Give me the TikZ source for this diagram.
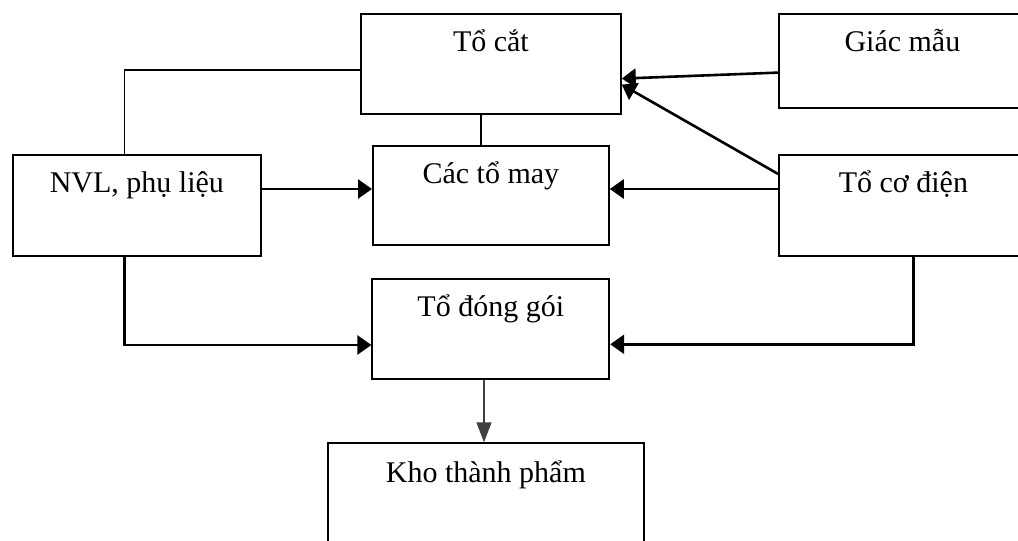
\documentclass[tikz,border=0pt]{standalone}
\usepackage{fontspec}
\setmainfont{Liberation Serif}
\usetikzlibrary{arrows.meta}
\begin{document}
\begin{tikzpicture}[x=1pt,y=-1pt,
  box/.style={draw, line width=1.8pt, anchor=north west, inner sep=0pt},
  lbl/.style={anchor=base, inner sep=0pt, font=\fontsize{30}{36}\selectfont},
  plain/.style={line width=1.6pt},
  arr/.style={line width=2.6pt, -{Triangle[length=14pt,width=19pt]}},
  thinarr/.style={line width=1.4pt, draw=black!75, -{Triangle[length=20pt,width=15pt]}}]
\useasboundingbox (0,0) rectangle (1018,541);
\fill[white] (0,0) rectangle (1018,541);
% boxes
\node[box, minimum width=260pt, minimum height=100pt] (cat) at (360,12.7) {};
\node[box, minimum width=247pt, minimum height=94pt] (giac) at (778,12.7) {};
\node[box, minimum width=248pt, minimum height=101pt] (nvl) at (12,154) {};
\node[box, minimum width=236pt, minimum height=99pt] (may) at (372,145) {};
\node[box, minimum width=249pt, minimum height=101pt] (coh) at (778,154) {};
\node[box, minimum width=237pt, minimum height=100pt] (dong) at (371.4,278) {};
\node[box, minimum width=316pt, minimum height=110pt] (kho) at (327,442.3) {};
% labels
\node[lbl] (catT) at ([yshift=-38.5pt]cat.north) {Tổ cắt};
\node[lbl] (giacT) at ([yshift=-38.5pt]giac.north) {Giác mẫu};
\node[lbl] (nvlT) at ([yshift=-38.5pt]nvl.north) {NVL, phụ liệu};
\node[lbl] (mayT) at ([yshift=-38.5pt]may.north) {Các tổ may};
\node[lbl] (cohT) at ([yshift=-38.5pt]coh.north) {Tổ cơ điện};
\node[lbl] (dongT) at ([yshift=-38.5pt]dong.north) {Tổ đóng gói};
\node[lbl] (khoT) at ([yshift=-40pt]kho.north) {Kho thành phẩm};
% helper coordinates
\coordinate (c1) at (124.6,70);
\coordinate (c2) at (481,0);
\coordinate (c3) at (0,189);
\coordinate (c4) at (124.6,345);
\coordinate (c5) at (913.6,344.3);
\coordinate (c6) at (484,0);
% connectors
\draw[plain] (cat.west |- c1) -- (c1) -- (c1 |- nvl.north);
\draw[plain] (c2 |- cat.south) -- (c2 |- may.north);
\draw[arr] (nvl.east |- c3) -- (may.west |- c3);
\draw[arr] (coh.west |- c3) -- (may.east |- c3);
\draw[arr] ([yshift=-12pt]giac.west) -- ([yshift=-15pt]cat.east);
\draw[arr] ([yshift=31.5pt]coh.west) -- ([yshift=-21pt]cat.east);
\draw[arr] (c4 |- nvl.south) -- (c4) -- (dong.west |- c4);
\draw[arr] (c5 |- coh.south) -- (c5) -- (dong.east |- c5);
\draw[thinarr] (c6 |- dong.south) -- (c6 |- kho.north);
\end{tikzpicture}
\end{document}
